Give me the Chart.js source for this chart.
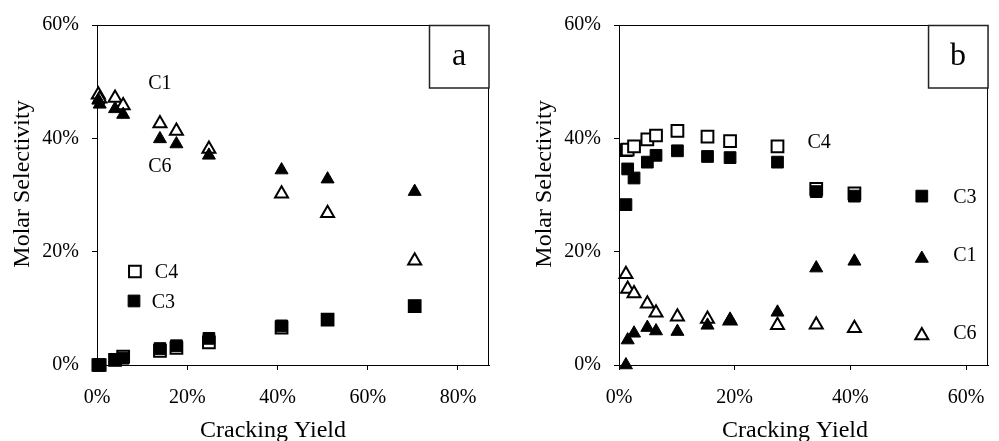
<!DOCTYPE html>
<html><head><meta charset="utf-8">
<script src="https://cdn.jsdelivr.net/npm/chart.js@4.4.0/dist/chart.umd.min.js"></script>
<style>
html,body{margin:0;padding:0;overflow:hidden;background:#fff;width:999px;height:441px;position:relative}
#pa{position:absolute;left:0;top:0;width:500px;height:444px}
#pb{position:absolute;left:500px;top:0;width:501px;height:444px}
</style></head><body>
<div id="pa"><canvas id="ca"></canvas></div>
<div id="pb"><canvas id="cb"></canvas></div>
<script>
// ---- tick labels ----
const xTicksA = [0, 0.2, 0.4, 0.6, 0.8];
const xTicksB = [0, 0.2, 0.4, 0.6];
const yTicks = [0, 0.2, 0.4, 0.6];

// ---- panel a (cracking yield vs molar selectivity) ----
const yieldA = [0.003, 0.006, 0.040, 0.058, 0.1395, 0.176, 0.248, 0.409, 0.511, 0.704];
const c1A = [0.467, 0.460, 0.452, 0.442, 0.399, 0.390, 0.370, 0.344, 0.328, 0.306];
const c6A = [0.477, 0.470, 0.471, 0.458, 0.426, 0.413, 0.381, 0.302, 0.268, 0.184];
const c3A = [0.000, 0.000, 0.009, 0.012, 0.029, 0.034, 0.047, 0.069, 0.080, 0.104];
const c4A = [0.000, 0.000, 0.009, 0.015, 0.025, 0.030, 0.040, 0.066, 0.080, 0.104];
// legend keys and text labels of panel a (data coordinates)
const keyA_C4 = [0.084, 0.165];
const keyA_C3 = [0.082, 0.113];
const labelsA = ['C1', 'C6', 'C4', 'C3'];
const labelsA_x = [0.1395, 0.1395, 0.154, 0.147];
const labelsA_y = [0.497, 0.350, 0.1635, 0.110];

// ---- panel b ----
const yieldB = [0.012, 0.015, 0.026, 0.049, 0.064, 0.101, 0.153, 0.192, 0.274, 0.341, 0.407];
const c1B = [0.000, 0.044, 0.056, 0.066, 0.060, 0.059, 0.070, 0.080, 0.093, 0.171, 0.183];
const c6B = [0.160, 0.134, 0.126, 0.108, 0.092, 0.085, 0.081, 0.078, 0.070, 0.071, 0.065];
const c3B = [0.283, 0.346, 0.330, 0.358, 0.370, 0.378, 0.368, 0.366, 0.358, 0.306, 0.298];
const c4B = [0.379, 0.380, 0.386, 0.398, 0.405, 0.413, 0.403, 0.395, 0.386, 0.311, 0.303];
const keyB_C3 = [0.5235, 0.298];
const keyB_C1 = [0.5235, 0.188];
const keyB_C6 = [0.5235, 0.052];
const labelsB = ['C4', 'C3', 'C1', 'C6'];
const labelsB_x = [0.346, 0.598, 0.598, 0.598];
const labelsB_y = [0.393, 0.295, 0.1925, 0.055];

const FONT = '"Liberation Serif", "Times New Roman", serif';
const pct = v => Math.round(v * 100) + '%';
const pts = (xs, ys) => xs.map((x, i) => ({x: x, y: ys[i]}));

function ds(data, style, filled, order) {
  const tri = style === 'triangle';
  return {
    data: data, pointStyle: style, order: order, clip: false, showLine: false,
    pointRadius: tri ? 7.5 : 8.3, pointHoverRadius: tri ? 7.5 : 8.3,
    backgroundColor: filled ? '#000' : '#fff', borderColor: '#000',
    pointBorderWidth: filled ? 1 : 2, borderWidth: filled ? 1 : 2
  };
}

function overlay(cfg) {
  return {
    id: 'overlay',
    afterDraw(chart) {
      const ctx = chart.ctx, a = chart.chartArea, xs = chart.scales.x, ys = chart.scales.y;
      ctx.save();
      ctx.strokeStyle = '#000'; ctx.lineWidth = 1;
      ctx.beginPath();
      ctx.moveTo(a.left, a.top + 0.5); ctx.lineTo(a.right, a.top + 0.5);
      ctx.moveTo(a.right - 0.5, a.top); ctx.lineTo(a.right - 0.5, a.bottom);
      ctx.stroke();
      // letter box
      ctx.fillStyle = '#fff';
      ctx.fillRect(a.right - 60, a.top, 60, 63);
      ctx.lineWidth = 1.5; ctx.strokeStyle = '#222';
      ctx.strokeRect(a.right - 60 + 0.5, a.top + 0.5, 59.5, 62.5);
      ctx.fillStyle = '#000';
      ctx.font = '32px ' + FONT; ctx.textAlign = 'center'; ctx.textBaseline = 'alphabetic';
      ctx.fillText(cfg.letter, a.right - 30, a.top + 40);
      // series labels
      ctx.font = '20px ' + FONT; ctx.textBaseline = 'middle';
      cfg.labels.forEach((t, i) => ctx.fillText(t, xs.getPixelForValue(cfg.lx[i]), ys.getPixelForValue(cfg.ly[i])));
      // axis titles
      ctx.font = '24px ' + FONT; ctx.textBaseline = 'alphabetic';
      ctx.fillText('Cracking Yield', a.left + 176, a.bottom + 72);
      ctx.translate(a.left - 68.4, a.top + 159);
      ctx.rotate(-Math.PI / 2);
      ctx.fillText('Molar Selectivity', 0, 0);
      ctx.restore();
    }
  };
}

function makeChart(id, datasets, xMax, xTicks, yAxisWidth, padRight, cfg) {
  return new Chart(document.getElementById(id), {
    type: 'scatter',
    data: {datasets: datasets},
    options: {
      animation: false, responsive: true, maintainAspectRatio: false, devicePixelRatio: 1,
      layout: {padding: {top: 19, right: padRight, left: 0, bottom: 0}},
      plugins: {legend: {display: false}, tooltip: {enabled: false}},
      scales: {
        x: {
          type: 'linear', min: 0, max: xMax,
          afterBuildTicks: s => { s.ticks = xTicks.map(v => ({value: v})); },
          afterFit: s => { s.height = 79; },
          grid: {drawOnChartArea: false, drawTicks: true, tickLength: 5, color: '#000', lineWidth: 1},
          border: {display: true, color: '#000', width: 1},
          ticks: {color: '#000', font: {family: FONT, size: 20}, padding: 16, callback: pct, maxRotation: 0, autoSkip: false}
        },
        y: {
          type: 'linear', min: 0, max: 0.6,
          afterBuildTicks: s => { s.ticks = yTicks.map(v => ({value: v})); },
          afterFit: s => { s.width = yAxisWidth; },
          grid: {drawOnChartArea: false, drawTicks: true, tickLength: 5, color: '#000', lineWidth: 1},
          border: {display: true, color: '#000', width: 1},
          ticks: {color: '#000', font: {family: FONT, size: 20}, padding: 13, callback: pct}
        }
      }
    },
    plugins: [overlay(cfg)]
  });
}

makeChart('ca', [
  ds(pts(yieldA, c1A), 'triangle', true, 0),
  ds(pts(yieldA, c3A), 'rect', true, 1),
  ds(pts(yieldA, c6A), 'triangle', false, 2),
  ds(pts(yieldA, c4A), 'rect', false, 3),
  ds([{x: keyA_C4[0], y: keyA_C4[1]}], 'rect', false, 4),
  ds([{x: keyA_C3[0], y: keyA_C3[1]}], 'rect', true, 4)
], 0.8687, xTicksA, 97, 11, {letter: 'a', labels: labelsA, lx: labelsA_x, ly: labelsA_y});

makeChart('cb', [
  ds(pts(yieldB, c1B), 'triangle', true, 0),
  ds(pts(yieldB, c3B), 'rect', true, 1),
  ds(pts(yieldB, c6B), 'triangle', false, 2),
  ds(pts(yieldB, c4B), 'rect', false, 3),
  ds([{x: keyB_C3[0], y: keyB_C3[1]}], 'rect', true, 4),
  ds([{x: keyB_C1[0], y: keyB_C1[1]}], 'triangle', true, 4),
  ds([{x: keyB_C6[0], y: keyB_C6[1]}], 'triangle', false, 4)
], 0.638, xTicksB, 119, 0, {letter: 'b', labels: labelsB, lx: labelsB_x, ly: labelsB_y});
</script>
</body></html>
